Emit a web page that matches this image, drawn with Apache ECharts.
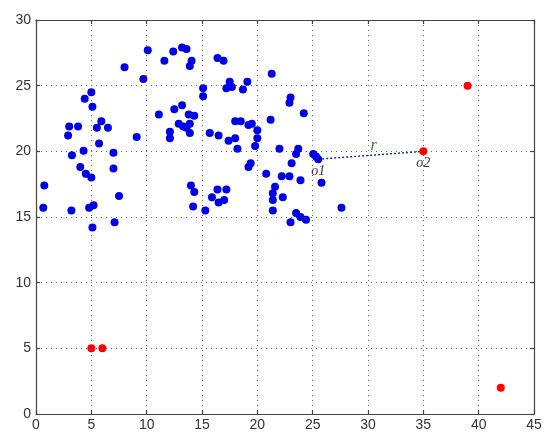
<!DOCTYPE html>
<html>
<head>
<meta charset="utf-8">
<script src="https://cdn.jsdelivr.net/npm/echarts@6/dist/echarts.min.js"></script>
<style>
  html, body { margin: 0; padding: 0; background: #fff; }
</style>
</head>
<body>
<div id="main" style="width: 550px;height: 446px;"></div>
<script>
// sample points (blue)
var bluePoints = [
  [0.75, 17.4], [0.66, 15.7], [2.9, 21.2], [3.0, 21.9], [3.8, 21.9], [3.25, 19.7],
  [3.2, 15.5], [4.0, 18.8], [4.3, 20.05], [4.4, 24.0], [4.5, 18.3], [5.0, 24.5],
  [5.1, 23.4], [5.0, 18.0], [4.8, 15.7], [5.2, 15.9], [5.1, 14.2], [5.5, 21.8],
  [5.9, 22.3], [5.7, 20.6], [6.5, 21.8], [7.0, 19.9], [7.0, 18.7], [7.5, 16.6],
  [7.1, 14.6], [8.0, 26.4], [9.1, 21.1], [9.7, 25.5], [10.1, 27.7], [11.1, 22.8],
  [11.6, 26.9], [12.4, 27.6], [12.5, 23.2], [12.1, 21.5], [12.1, 21.0], [13.2, 27.9],
  [13.6, 27.8], [13.2, 23.5], [12.9, 22.1], [13.3, 21.9], [13.8, 22.8], [14.3, 22.7],
  [13.9, 22.1], [13.6, 21.8], [13.9, 21.4], [14.06, 26.9], [13.9, 26.5], [15.1, 24.8],
  [15.1, 24.2], [16.4, 27.1], [16.95, 26.9], [17.5, 25.3], [17.2, 24.8], [17.7, 24.9],
  [19.1, 25.3], [18.7, 24.7], [21.3, 25.9], [23.0, 24.1], [22.9, 23.7], [24.2, 22.9],
  [21.2, 22.4], [18.0, 22.3], [18.5, 22.3], [19.2, 22.0], [19.5, 22.1], [20.0, 21.6],
  [20.0, 21.0], [15.7, 21.4], [16.5, 21.2], [17.4, 20.8], [18.0, 21.0], [18.2, 20.2],
  [19.8, 20.4], [22.0, 20.2], [23.7, 20.2], [23.5, 19.8], [23.1, 19.1], [19.4, 19.1],
  [19.2, 18.8], [20.8, 18.3], [22.2, 18.1], [22.9, 18.1], [23.9, 17.8], [25.05, 19.8],
  [25.3, 19.6], [25.5, 19.4], [25.8, 17.6], [21.6, 17.3], [21.4, 16.8], [21.4, 16.3],
  [22.3, 16.5], [21.4, 15.5], [23.0, 14.6], [23.5, 15.3], [23.9, 15.0], [24.4, 14.8],
  [27.6, 15.7], [14.0, 17.4], [14.3, 16.9], [16.4, 17.1], [17.2, 17.1], [15.9, 16.5],
  [16.5, 16.1], [17.0, 16.3], [14.2, 15.8], [15.3, 15.5]
];
// outliers (red)
var redPoints = [[5, 5], [6, 5], [35, 20], [39, 25], [42, 2]];
// segment r from o1 to o2
var o1 = [25.5, 19.4];
var o2 = [35, 20];
var rLabelPos = [30.5, 19.7];

var xTicks = [0, 45, 5];
var yTicks = [0, 30, 5];

var myChart = echarts.init(document.getElementById('main'));

var labelFont = { fontFamily: 'Liberation Sans', fontSize: 14, color: '#333' };
var frame = { show: true, onZero: false, lineStyle: { color: '#444', width: 1.2 } };
var innerTick = { show: true, inside: true, length: 4, lineStyle: { color: '#444', width: 1.2 } };
var dotted = { show: true, lineStyle: { type: [1, 4], color: '#666', width: 1 } };

var option = {
  animation: false,
  backgroundColor: '#fff',
  grid: { left: 36, right: 16, top: 20, bottom: 32, containLabel: false },
  xAxis: [
    {
      type: 'value', min: xTicks[0], max: xTicks[1], interval: xTicks[2],
      position: 'bottom',
      axisLine: frame, axisTick: innerTick, splitLine: dotted,
      axisLabel: Object.assign({ margin: 4 }, labelFont)
    },
    {
      type: 'value', min: xTicks[0], max: xTicks[1], interval: xTicks[2],
      position: 'top',
      axisLine: frame, axisTick: innerTick, splitLine: { show: false },
      axisLabel: { show: false }
    }
  ],
  yAxis: [
    {
      type: 'value', min: yTicks[0], max: yTicks[1], interval: yTicks[2],
      position: 'left',
      axisLine: frame, axisTick: innerTick, splitLine: dotted,
      axisLabel: Object.assign({ margin: 5 }, labelFont)
    },
    {
      type: 'value', min: yTicks[0], max: yTicks[1], interval: yTicks[2],
      position: 'right',
      axisLine: frame, axisTick: innerTick, splitLine: { show: false },
      axisLabel: { show: false }
    }
  ],
  series: [
    {
      type: 'line',
      data: [
        { value: o1, name: 'o1' },
        { value: o2, name: 'o2' }
      ],
      showSymbol: true,
      symbol: 'circle',
      symbolSize: 0,
      lineStyle: { color: '#1d3b8c', width: 1.5, type: [2, 2] },
      label: {
        show: true, position: 'bottom', distance: 5, formatter: '{b}',
        fontFamily: 'Liberation Serif', fontStyle: 'italic', fontSize: 14, color: '#333'
      },
      z: 1
    },
    {
      type: 'scatter',
      data: bluePoints,
      symbolSize: 8,
      itemStyle: { color: '#0000e6', opacity: 1 },
      z: 3
    },
    {
      type: 'scatter',
      data: redPoints,
      symbolSize: 8,
      itemStyle: { color: '#ff0000', opacity: 1 },
      z: 3
    },
    {
      type: 'scatter',
      data: [{ value: rLabelPos, name: 'r' }],
      symbolSize: 0,
      silent: true,
      label: {
        show: true, position: 'top', distance: 1, formatter: '{b}',
        fontFamily: 'Liberation Serif', fontStyle: 'italic', fontSize: 16, color: '#333'
      }
    }
  ]
};
myChart.setOption(option);
</script>
</body>
</html>
